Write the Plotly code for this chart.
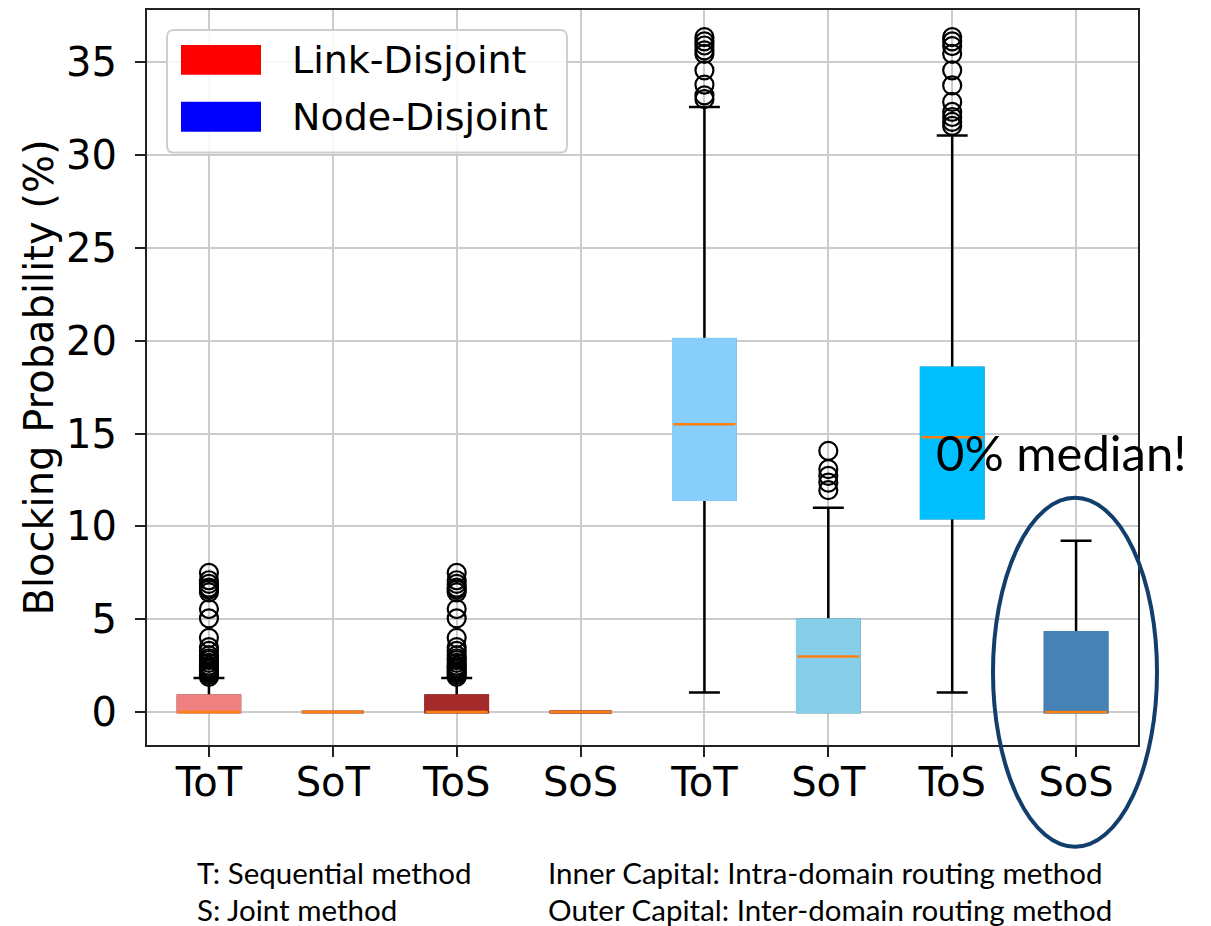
import plotly.graph_objects as go

# Box positions and tick labels (link-disjoint boxes 1-4, node-disjoint boxes 5-8)
positions = [1, 2, 3, 4, 5, 6, 7, 8]
labels = ["ToT", "SoT", "ToS", "SoS", "ToT", "SoT", "ToS", "SoS"]
box_colors = ["#F08080", "#CD5C5C", "#A52A2A", "#8B0000",
              "#87CEFA", "#87CEEB", "#00BFFF", "#4682B4"]

# Box statistics (blocking probability, %)
q1 = [0, 0, 0, 0, 11.45, 0, 10.45, 0]
median = [0, 0, 0, 0, 15.5, 3.0, 14.8, 0]
q3 = [0.88, 0, 0.88, 0, 20.08, 4.97, 18.52, 4.28]
lower_whisker = [0, 0, 0, 0, 1.05, 0, 1.05, 0]
upper_whisker = [1.84, 0, 1.84, 0, 32.58, 11.0, 31.04, 9.23]

# Fliers per box
outliers = [
    [1.9, 2.0, 2.1, 2.2, 2.3, 2.4, 2.5, 2.65, 2.8, 2.9, 3.05, 3.3, 3.5, 4.0,
     5.05, 5.55, 6.45, 6.6, 6.7, 6.9, 7.1, 7.5],
    [],
    [1.9, 2.0, 2.1, 2.2, 2.3, 2.4, 2.5, 2.65, 2.8, 2.9, 3.05, 3.3, 3.5, 4.0,
     5.05, 5.55, 6.45, 6.6, 6.7, 6.9, 7.1, 7.5],
    [],
    [33.0, 33.2, 33.78, 34.55, 35.44, 35.63, 35.89, 36.11, 36.34],
    [11.95, 12.36, 12.72, 13.08, 14.06],
    [31.56, 31.78, 32.04, 32.31, 32.85, 33.74, 34.55, 35.44, 35.86, 36.11, 36.34],
    [],
]

legend_names = ["Link-Disjoint", "Node-Disjoint"]
legend_colors = ["#FF0000", "#0000FF"]

notes_left = ["T: Sequential method", "S: Joint method"]
notes_right = ["Inner Capital: Intra-domain routing method",
               "Outer Capital: Inter-domain routing method"]
callout = "0% median!"

BOX_W = 0.5
MEDIAN_COLOR = "#FF7F0E"
FONT = "DejaVu Sans"
NOTE_FONT = "Lato"

fig = go.Figure()

# Whiskers and caps (black)
fig.add_trace(go.Box(
    x=positions, q1=q1, median=median, q3=q3,
    lowerfence=lower_whisker, upperfence=upper_whisker,
    width=BOX_W, whiskerwidth=0.5, boxpoints=False,
    line=dict(color="black", width=2.5), fillcolor="rgba(0,0,0,0)",
    showlegend=False, hoverinfo="skip"))

# Coloured box bodies, outline in the fill colour
for i, pos in enumerate(positions):
    fig.add_trace(go.Box(
        x=[pos], q1=[q1[i]], median=[q1[i]], q3=[q3[i]],
        lowerfence=[q1[i]], upperfence=[q3[i]],
        width=BOX_W, whiskerwidth=0, boxpoints=False,
        line=dict(color=box_colors[i], width=3), fillcolor=box_colors[i],
        showlegend=False, hoverinfo="skip"))

# Median lines
fig.add_trace(go.Box(
    x=positions, q1=median, median=median, q3=median,
    lowerfence=median, upperfence=median,
    width=BOX_W, whiskerwidth=0, boxpoints=False,
    line=dict(color=MEDIAN_COLOR, width=2.5), fillcolor="rgba(0,0,0,0)",
    showlegend=False, hoverinfo="skip"))

# Fliers
fx, fy = [], []
for pos, vals in zip(positions, outliers):
    fx += [pos] * len(vals)
    fy += vals
fig.add_trace(go.Scatter(
    x=fx, y=fy, mode="markers",
    marker=dict(symbol="circle-open", size=18, color="black", line=dict(width=2.2)),
    showlegend=False, hoverinfo="skip"))

# Plot-area pixel frame for paper-coordinate decorations
L, R, T, B = 147, 1138, 8, 745


def px(x):
    return (x - L) / (R - L)


def py(y):
    return (B - y) / (B - T)


shapes = []
annotations = []

# Legend box with rounded corners
x0, x1, y0, y1, r = 167, 567, 28, 151, 7
rx = r / (R - L)
ry = r / (B - T)
path = (f"M {px(x0)+rx},{py(y0)} L {px(x1)-rx},{py(y0)} "
        f"Q {px(x1)},{py(y0)} {px(x1)},{py(y0)-ry} "
        f"L {px(x1)},{py(y1)+ry} Q {px(x1)},{py(y1)} {px(x1)-rx},{py(y1)} "
        f"L {px(x0)+rx},{py(y1)} Q {px(x0)},{py(y1)} {px(x0)},{py(y1)+ry} "
        f"L {px(x0)},{py(y0)-ry} Q {px(x0)},{py(y0)} {px(x0)+rx},{py(y0)} Z")
shapes.append(dict(type="path", xref="paper", yref="paper", path=path,
                   line=dict(color="#cfcfcf", width=2),
                   fillcolor="rgba(255,255,255,0.85)", layer="above"))
for k, (name, col) in enumerate(zip(legend_names, legend_colors)):
    cy = 58 + k * 57
    shapes.append(dict(type="rect", xref="paper", yref="paper",
                       x0=px(181), x1=px(261), y0=py(cy - 15), y1=py(cy + 15),
                       fillcolor=col, line=dict(width=0), layer="above"))
    annotations.append(dict(xref="paper", yref="paper", x=px(290), y=py(cy),
                            xanchor="left", yanchor="middle", text=name,
                            showarrow=False, font=dict(family=FONT, size=38, color="black")))

# Highlight ellipse around the last box
shapes.append(dict(type="circle", xref="paper", yref="paper",
                   x0=px(993), x1=px(1157), y0=py(847), y1=py(497),
                   line=dict(color="#123e6b", width=4), layer="above"))

annotations.append(dict(xref="paper", yref="paper", x=px(934), y=py(451),
                        xanchor="left", yanchor="middle", text=callout,
                        showarrow=False, font=dict(family=NOTE_FONT, size=49, color="black")))

for k, txt in enumerate(notes_left):
    annotations.append(dict(xref="paper", yref="paper", x=px(195), y=py(873 + 37 * k),
                            xanchor="left", yanchor="middle", text=txt, showarrow=False,
                            font=dict(family=NOTE_FONT, size=29.5, color="black")))
for k, txt in enumerate(notes_right):
    annotations.append(dict(xref="paper", yref="paper", x=px(546), y=py(873 + 37 * k),
                            xanchor="left", yanchor="middle", text=txt, showarrow=False,
                            font=dict(family=NOTE_FONT, size=29.5, color="black")))

axis_common = dict(
    showgrid=True, gridcolor="#cccccc", gridwidth=2,
    showline=True, mirror=True, linecolor="#222222", linewidth=2,
    ticks="outside", ticklen=10, tickwidth=2, tickcolor="#222222",
    tickfont=dict(family=FONT, size=40, color="black"),
    zeroline=False,
)

fig.update_layout(
    width=1211, height=926,
    margin=dict(l=L, r=1211 - R, t=T, b=926 - B),
    paper_bgcolor="white", plot_bgcolor="white",
    boxmode="overlay",
    xaxis=dict(range=[0.5, 8.5], tickmode="array", tickvals=positions, ticktext=labels,
               ticklabelstandoff=-9, **axis_common),
    yaxis=dict(range=[-1.77, 37.8], tickmode="array", tickvals=[0, 5, 10, 15, 20, 25, 30, 35],
               ticklabelstandoff=10,
               title=dict(text="Blocking Probability (%)",
                          font=dict(family=FONT, size=40, color="black"), standoff=0),
               **axis_common),
    shapes=shapes,
    annotations=annotations,
    font=dict(family=FONT),
)

fig.write_html("out.html")
